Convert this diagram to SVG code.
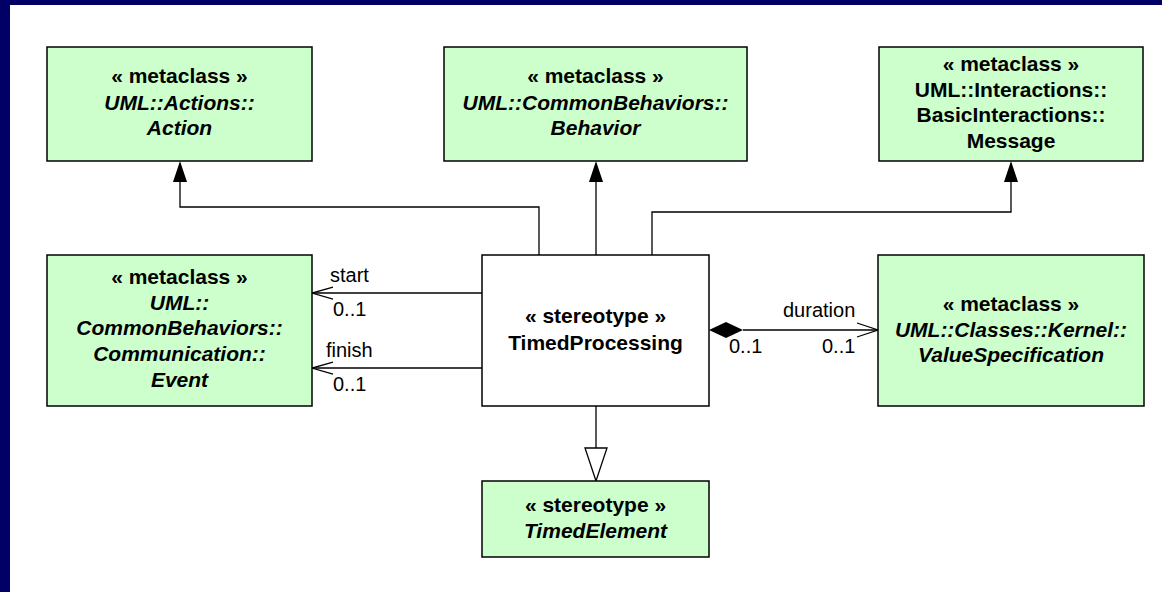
<svg xmlns="http://www.w3.org/2000/svg" width="1162" height="592" viewBox="0 0 1162 592">
<style>
.box{fill:#CCFFCC;stroke:#000;stroke-width:1.5}
.wbox{fill:#fff;stroke:#000;stroke-width:1.5}
text{font-family:"Liberation Sans",Arial,sans-serif;fill:#000}
.t{font-size:21px;font-weight:bold;text-anchor:middle}
.i{font-style:italic}
.lbl{font-size:20px}
.ln{fill:none;stroke:#000;stroke-width:1.3}
</style>
<defs>
<marker id="fill" markerWidth="14" markerHeight="22" refX="7" refY="0" orient="auto-start-reverse" markerUnits="userSpaceOnUse" viewBox="0 0 14 22" overflow="visible">
<path d="M7,0 L14,21 L0,21 Z" fill="#000"/>
</marker>
</defs>
<rect x="0" y="0" width="1162" height="592" fill="#fff"/>
<rect x="0" y="0" width="1162" height="5" fill="#000066"/>
<rect x="0" y="0" width="10" height="592" fill="#000066"/>

<g id="connectors">
<path class="ln" d="M539,255 V207 H180 V182"/>
<path d="M180,161 L187,182 L173,182 Z" fill="#000"/>
<path class="ln" d="M596,255 V182"/>
<path d="M596,161 L603,182 L589,182 Z" fill="#000"/>
<path class="ln" d="M652,255 V212 H1011 V182"/>
<path d="M1011,161 L1018,182 L1004,182 Z" fill="#000"/>
<path class="ln" d="M482,293 H312"/>
<path class="ln" d="M333,287 L312,293 L333,299"/>
<path class="ln" d="M482,368 H312"/>
<path class="ln" d="M333,362 L312,368 L333,374"/>
<path class="ln" d="M743,330 H878"/>
<path class="ln" d="M857,323 L878,330 L857,337"/>
<path d="M709,330 L726,322 L743,330 L726,338 Z" fill="#000"/>
<path class="ln" d="M596,406 V448"/>
<path d="M585,448 L607,448 L596,481 Z" fill="#fff" stroke="#000" stroke-width="1.3"/>
<text class="lbl" x="330" y="282">start</text>
<text class="lbl" x="333" y="316">0..1</text>
<text class="lbl" x="326" y="357">finish</text>
<text class="lbl" x="333" y="391">0..1</text>
<text class="lbl" x="783" y="317">duration</text>
<text class="lbl" x="729" y="353">0..1</text>
<text class="lbl" x="822" y="353">0..1</text>
</g>

<g id="action">
<rect class="box" x="47" y="47" width="265" height="114"/>
<text class="t" x="179.5" y="83">« metaclass »</text>
<text class="t i" x="179.5" y="110">UML::Actions::</text>
<text class="t i" x="179.5" y="135">Action</text>
</g>

<g id="behavior">
<rect class="box" x="444" y="47" width="303" height="114"/>
<text class="t" x="595.5" y="83">« metaclass »</text>
<text class="t i" x="595.5" y="110">UML::CommonBehaviors::</text>
<text class="t i" x="595.5" y="135">Behavior</text>
</g>

<g id="message">
<rect class="box" x="879" y="47" width="264" height="114"/>
<text class="t" x="1011" y="71">« metaclass »</text>
<text class="t" x="1011" y="97">UML::Interactions::</text>
<text class="t" x="1011" y="122">BasicInteractions::</text>
<text class="t" x="1011" y="148">Message</text>
</g>

<g id="event">
<rect class="box" x="47" y="255" width="265" height="151"/>
<text class="t" x="179.5" y="284">« metaclass »</text>
<text class="t i" x="179.5" y="310">UML::</text>
<text class="t i" x="179.5" y="335">CommonBehaviors::</text>
<text class="t i" x="179.5" y="361">Communication::</text>
<text class="t i" x="179.5" y="387">Event</text>
</g>

<g id="timedprocessing">
<rect class="wbox" x="482" y="255" width="227" height="151"/>
<text class="t" x="595.5" y="323">« stereotype »</text>
<text class="t" x="595.5" y="350">TimedProcessing</text>
</g>

<g id="valuespecification">
<rect class="box" x="878" y="255" width="266" height="151"/>
<text class="t" x="1011" y="311">« metaclass »</text>
<text class="t i" x="1011" y="337">UML::Classes::Kernel::</text>
<text class="t i" x="1011" y="362">ValueSpecification</text>
</g>

<g id="timedelement">
<rect class="box" x="482" y="481" width="227" height="76"/>
<text class="t" x="595.5" y="512">« stereotype »</text>
<text class="t i" x="595.5" y="538">TimedElement</text>
</g>
</svg>
